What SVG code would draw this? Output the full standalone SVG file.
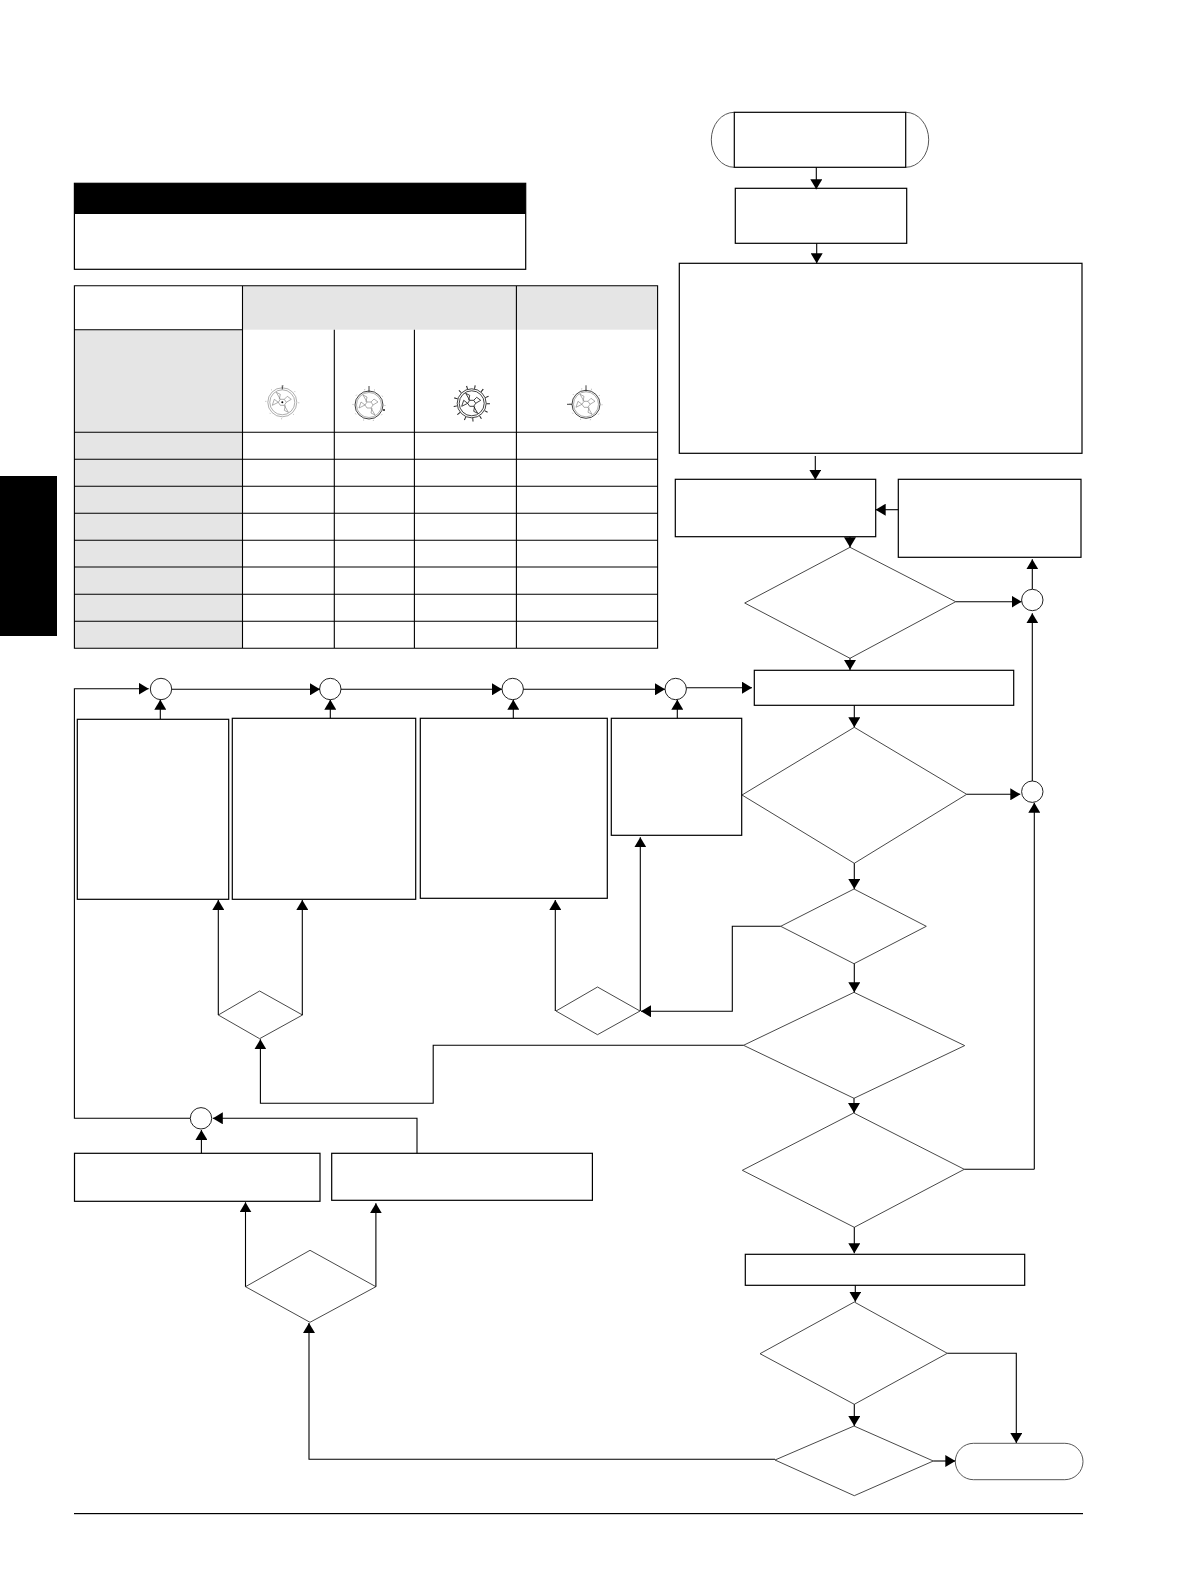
<svg xmlns="http://www.w3.org/2000/svg" width="1190" height="1584" viewBox="0 0 1190 1584">
<style>
.b{fill:#fff;stroke:#000;stroke-width:1.2}
.d{fill:#fff;stroke:#333;stroke-width:.9}
.c{fill:#fff;stroke:#222;stroke-width:1}
.a{fill:#fff;stroke:#444;stroke-width:.9}
.l{fill:none;stroke:#000;stroke-width:1.1}
.t{fill:none;stroke:#000;stroke-width:1.1}
.g{fill:#e5e5e5;stroke:none}
.w{fill:none;stroke:#777;stroke-width:.6}
.k{fill:none;stroke:#111;stroke-width:.8}
</style>
<defs>
<marker id="ah" markerUnits="userSpaceOnUse" viewBox="0 0 10 12" refX="10" refY="6" markerWidth="10" markerHeight="12" orient="auto"><path d="M0 0L10 6L0 12Z" fill="#000"/></marker>
<g id="web"><path d="M-2 -3L2 -3L4 0L2 3L-2 3L-4 0Z"/><path d="M-2 -3L-6 -10M2 3L6 10M4 0L9 -3M-4 0L-10 3M-6 -10L-2 -8L-3 -3M6 10L2 8L3 3M-4 0L-8 -3L-10 3M2 -3L5 -6L9 -3"/></g>
</defs>
<rect id="side-tab" x="0" y="476" width="57" height="160" fill="#000"/>
<g id="warning"><rect class="b" x="74.4" y="183.3" width="451.3" height="86"/><rect x="74.4" y="183.3" width="451.3" height="30.7" fill="#000"/></g>
<g id="table">
<rect class="g" x="242.5" y="285.7" width="415" height="44"/>
<rect class="g" x="74.4" y="329.7" width="168" height="318.6"/>
<path class="t" d="M74.4 285.7H657.6V648.3H74.4ZM74.4 329.7H242.5M242.5 285.7V648.3M334.3 329.7V648.3M414.4 329.7V648.3M516.4 285.7V648.3M74.4 432.3H657.6M74.4 459.3H657.6M74.4 486.3H657.6M74.4 513.3H657.6M74.4 540.3H657.6M74.4 567H657.6M74.4 594.3H657.6M74.4 621.3H657.6"/>
</g>
<g id="icon-1" transform="translate(282.3 402.3)">
<circle class="w" r="14.5"/><circle class="w" r="12.5"/><circle class="w" r="16.5" stroke-width="2.5" stroke-dasharray="1 12"/><use href="#web" class="w"/><path class="k" d="M0-17V-13"/><circle r="1" fill="#000"/>
</g>
<g id="icon-2" transform="translate(369 405)">
<circle class="k" r="14"/><circle class="w" r="12.5"/><circle class="w" r="16" stroke-width="2.5" stroke-dasharray="1 9"/><use href="#web" class="w"/><path class="k" d="M0-19V-13"/><circle cx="15" cy="5" r=".9" fill="#000"/>
</g>
<g id="icon-3" transform="translate(471.7 403.3)">
<circle class="k" r="14.5"/><circle class="k" r="12.5"/><circle r="16.5" fill="none" stroke="#222" stroke-width="3.5" stroke-dasharray="1 7"/><use href="#web" class="k"/>
</g>
<g id="icon-4" transform="translate(586 404.3)">
<circle class="k" r="14"/><circle class="w" r="12.5"/><circle class="w" r="16" stroke-width="2.5" stroke-dasharray="1 9"/><use href="#web" class="w"/><path class="k" d="M0-19V-13M-19 0H-14"/>
</g>
<g id="start"><path class="a" d="M734.3 112.3A23 27.5 0 0 0 734.3 167.3M905.7 112.3A23 27.5 0 0 1 905.7 167.3"/><rect class="b" x="734.3" y="112.3" width="171.4" height="55"/></g>
<rect id="box-2" class="b" x="735.3" y="188.3" width="171.4" height="55"/>
<rect id="box-3" class="b" x="679.3" y="263.3" width="402.7" height="190"/>
<rect id="box-4" class="b" x="675.3" y="479.3" width="200.4" height="57.4"/>
<rect id="box-5" class="b" x="898.3" y="479.3" width="182.7" height="78"/>
<polygon id="dec-1" class="d" points="850,547.3 955.7,601.7 850,658.3 744.7,603"/>
<circle id="c-1" class="c" cx="1032.3" cy="600" r="10.7"/>
<rect id="box-6" class="b" x="754.3" y="670.3" width="259.4" height="35"/>
<polygon id="dec-2" class="d" points="854.3,727.3 966.7,794.3 854.3,863.3 742,795"/>
<circle id="c-2" class="c" cx="1032.3" cy="791.7" r="10.7"/>
<polygon id="dec-3" class="d" points="854,889 926.3,926.3 854,963.7 780.7,926.3"/>
<polygon id="dec-4" class="d" points="854,992.3 964.7,1045.6 854,1098.3 743.5,1045.3"/>
<polygon id="dec-5" class="d" points="853.7,1113 964.3,1169.3 854.3,1227.3 742.3,1170.3"/>
<rect id="box-7" class="b" x="745.3" y="1254.3" width="279.4" height="31"/>
<polygon id="dec-6" class="d" points="854.3,1302 947.3,1353.3 854.3,1404.3 760,1353.7"/>
<polygon id="dec-7" class="d" points="854,1426 933.3,1461 854.3,1495.7 775,1460"/>
<rect id="end" class="a" x="955.3" y="1443.3" width="127.7" height="36.4" rx="18.2"/>
<circle id="c-a" class="c" cx="161" cy="689" r="10.7"/>
<circle id="c-b" class="c" cx="330.3" cy="689" r="10.7"/>
<circle id="c-c" class="c" cx="512.7" cy="689" r="10.7"/>
<circle id="c-d" class="c" cx="675.7" cy="689" r="10.7"/>
<rect id="box-a" class="b" x="77.3" y="719.3" width="151.4" height="180"/>
<rect id="box-b" class="b" x="232.3" y="718.3" width="183.4" height="181"/>
<rect id="box-c" class="b" x="420.3" y="718.3" width="187" height="180"/>
<rect id="box-d" class="b" x="611.3" y="718.3" width="130.4" height="117"/>
<polygon id="dec-e" class="d" points="259.6,991 302.5,1015 259.6,1038.7 218.3,1015"/>
<polygon id="dec-f" class="d" points="597.5,987 640,1011 597.5,1034.7 556,1011"/>
<circle id="c-g" class="c" cx="201" cy="1118.3" r="10.7"/>
<rect id="box-h" class="b" x="74.5" y="1153.3" width="245.5" height="48"/>
<rect id="box-i" class="b" x="331.7" y="1153.3" width="260.7" height="47"/>
<polygon id="dec-j" class="d" points="310,1250.3 375.9,1286.7 310,1322.3 245.5,1286.7"/>
<rect id="rule" x="74" y="1513" width="1009" height="1.2" fill="#000"/>
<g id="connectors" class="l" marker-end="url(#ah)">
<path d="M816.3 167.3V189.3"/>
<path d="M816.7 243.3V263.3"/>
<path d="M815.3 456V479.8"/>
<path d="M898.3 509.7H875.7"/>
<path d="M850 536.7V547.3"/>
<path d="M955.7 601.7H1021.6"/>
<path d="M1032.3 589V559.3"/>
<path d="M1032.3 781V613.3"/>
<path d="M850 658.3V670"/>
<path d="M686.4 687.7H752"/>
<path d="M854.3 705.3V727.3"/>
<path d="M966.7 794.3H1020.3"/>
<path d="M1034.3 1169.3V802.7"/>
<path d="M964.3 1169.3H1034.3" marker-end="none"/>
<path d="M854.3 863.3V889"/>
<path d="M780.7 926.3H732.3V1011.3H641"/>
<path d="M854.3 963.7V992.3"/>
<path d="M854 1098.3V1113"/>
<path d="M854.3 1227.3V1253.3"/>
<path d="M855.3 1285.3V1301.7"/>
<path d="M947.3 1353.3H1016.3V1443"/>
<path d="M854.3 1404.3V1426"/>
<path d="M933.3 1461H955.3"/>
<path d="M775 1459.3H309V1323"/>
<path d="M245.5 1286.7V1202.3"/>
<path d="M375.9 1286.7V1203.3"/>
<path d="M417 1153.3V1118.3H212.8"/>
<path d="M201.4 1153.3V1130"/>
<path d="M190 1118.3H74.4V688.7H148.7"/>
<path d="M172 689.3H320"/>
<path d="M341 689.3H502"/>
<path d="M523.4 689.3H665"/>
<path d="M160.3 719V699.7"/>
<path d="M330.3 718.3V699.7"/>
<path d="M513.3 718.3V699.7"/>
<path d="M677.3 718.3V699.7"/>
<path d="M218.3 1015V900"/>
<path d="M302.3 1015V900"/>
<path d="M555.3 1011V900"/>
<path d="M640.3 1011V837.3"/>
<path d="M743.5 1045.3H433.2V1103.3H260.4V1039.3"/>
</g>
</svg>
